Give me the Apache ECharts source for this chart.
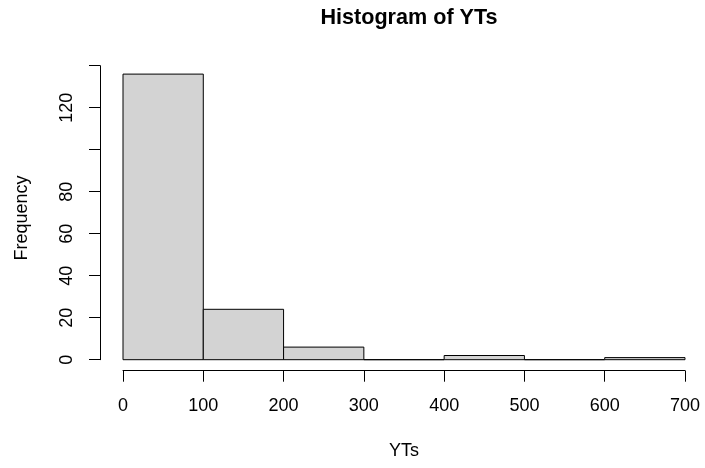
<!DOCTYPE html>
<html>
<head>
<meta charset="utf-8">
<script src="https://cdn.jsdelivr.net/npm/echarts@6/dist/echarts.min.js"></script>
<style>
  html, body { margin: 0; padding: 0; background: #fff; }
  #chart { width: 705px; height: 468px; }
</style>
</head>
<body>
<div id="chart"></div>
<script>
// Histogram bins (left edge, right edge) and their counts
const binStarts = [0, 100, 200, 300, 400, 500, 600];
const binEnds = [100, 200, 300, 400, 500, 600, 700];
const counts = [136, 24, 6, 0, 2, 0, 1];
const yTickHidden = [100, 140];

const FONT = 'Liberation Sans, Arial, sans-serif';
const chart = echarts.init(document.getElementById('chart'));

const data = binStarts.map((s, i) => [s, binEnds[i], counts[i]]);

chart.setOption({
  animation: false,
  backgroundColor: '#ffffff',
  title: {
    text: 'Histogram of YTs',
    left: 404,
    textAlign: 'center',
    top: 2,
    textStyle: { fontFamily: FONT, fontSize: 21.6, fontWeight: 'bold', color: '#000' }
  },
  grid: { left: 123, right: 20, top: 65.7, bottom: 108.3 },
  xAxis: {
    type: 'value',
    min: 0,
    max: 700,
    interval: 100,
    offset: 11,
    name: 'YTs',
    nameLocation: 'middle',
    nameGap: 71,
    nameTextStyle: { fontFamily: FONT, fontSize: 18, color: '#000' },
    axisLine: { show: true, onZero: false, lineStyle: { color: '#000', width: 1 } },
    axisTick: { show: true, length: 11, lineStyle: { color: '#000', width: 1 } },
    axisLabel: { fontFamily: FONT, fontSize: 18, color: '#000', margin: 26 },
    splitLine: { show: false }
  },
  yAxis: {
    type: 'value',
    min: 0,
    max: 140,
    interval: 20,
    offset: 23,
    axisLine: { show: true, onZero: false, lineStyle: { color: '#000', width: 1 } },
    axisTick: { show: true, length: 11, lineStyle: { color: '#000', width: 1 } },
    axisLabel: {
      fontFamily: FONT, fontSize: 18, color: '#000', rotate: 90, margin: 24,
      formatter: v => (yTickHidden.includes(v) ? '' : String(v))
    },
    splitLine: { show: false }
  },
  graphic: [{
    type: 'text',
    rotation: Math.PI / 2,
    x: 22,
    y: 218,
    style: {
      text: 'Frequency',
      fontFamily: FONT, fontSize: 18, fill: '#000',
      align: 'center', verticalAlign: 'middle'
    }
  }],
  series: [{
    type: 'custom',
    data: data,
    encode: { x: [0, 1], y: 2 },
    renderItem: function (params, api) {
      const p0 = api.coord([api.value(0), 0]);
      const p1 = api.coord([api.value(1), api.value(2)]);
      return {
        type: 'rect',
        shape: { x: p0[0], y: p1[1], width: p1[0] - p0[0], height: p0[1] - p1[1] },
        style: { fill: '#d3d3d3', stroke: '#000', lineWidth: 1 }
      };
    }
  }]
});
</script>
</body>
</html>
